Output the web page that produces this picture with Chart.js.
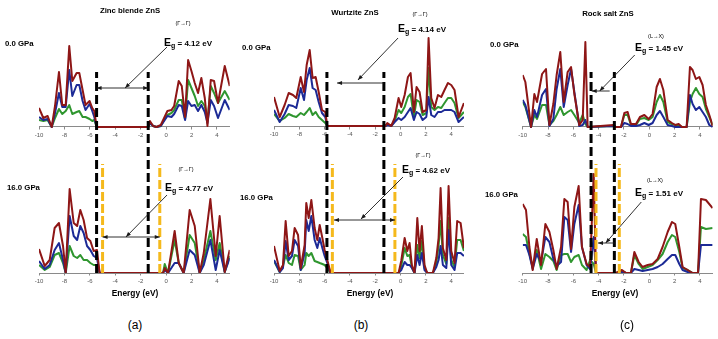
<!DOCTYPE html>
<html>
<head>
<meta charset="utf-8">
<script src="https://cdn.jsdelivr.net/npm/chart.js@4.4.0/dist/chart.umd.min.js"></script>
<style>
  html, body { margin: 0; padding: 0; background: #fff; }
  body { width: 718px; height: 339px; position: relative; overflow: hidden; font-family: "Liberation Sans", Arial, sans-serif; }
  canvas { position: absolute; top: 0; }
  .t { position: absolute; white-space: nowrap; font-weight: bold; color: #000; line-height: 1; }
  .c { transform: translate(-50%, -50%); }
  .l { transform: translate(0, -50%); }
  .title { font-size: 7.8px; }
  .gpa { font-size: 7.8px; }
  .tr { font-size: 5.5px; font-weight: normal; }
  .eg { font-size: 8px; }
  .eg big { font-size: 10.5px; }
  .eg sub { font-size: 7px; vertical-align: -2px; line-height: 0; }
  .axt { font-size: 8.4px; }
  .pan { font-size: 12px; font-weight: normal; }
</style>
</head>
<body>
<canvas id="colA" width="240" height="300" style="left:0px"></canvas>
<canvas id="colB" width="240" height="300" style="left:240px"></canvas>
<canvas id="colC" width="240" height="300" style="left:478px"></canvas>

<div class="t c title" style="left:130px;top:11px">Zinc blende ZnS</div>
<div class="t c title" style="left:355px;top:13px">Wurtzite ZnS</div>
<div class="t c title" style="left:608px;top:14px">Rock salt ZnS</div>

<div class="t l gpa" style="left:5px;top:44px">0.0 GPa</div>
<div class="t l gpa" style="left:242px;top:48px">0.0 GPa</div>
<div class="t l gpa" style="left:490px;top:45px">0.0 GPa</div>
<div class="t l gpa" style="left:7px;top:188px">16.0 GPa</div>
<div class="t l gpa" style="left:240px;top:198px">16.0 GPa</div>
<div class="t l gpa" style="left:485px;top:195px">16.0 GPa</div>

<div class="t c tr" style="left:183px;top:24px">(Γ→Γ)</div>
<div class="t c tr" style="left:186px;top:170px">(Γ→Γ)</div>
<div class="t c tr" style="left:420px;top:15px">(Γ→Γ)</div>
<div class="t c tr" style="left:423px;top:156px">(Γ→Γ)</div>
<div class="t c tr" style="left:656px;top:37px">(L→X)</div>
<div class="t c tr" style="left:655px;top:181px">(L→X)</div>

<div class="t l eg" style="left:164px;top:42px"><big>E</big><sub>g</sub> = 4.12 eV</div>
<div class="t l eg" style="left:165px;top:187px"><big>E</big><sub>g</sub> = 4.77 eV</div>
<div class="t l eg" style="left:398px;top:28px"><big>E</big><sub>g</sub> = 4.14 eV</div>
<div class="t l eg" style="left:402px;top:169px"><big>E</big><sub>g</sub> = 4.62 eV</div>
<div class="t l eg" style="left:635px;top:47px"><big>E</big><sub>g</sub> = 1.45 eV</div>
<div class="t l eg" style="left:635px;top:192px"><big>E</big><sub>g</sub> = 1.51 eV</div>

<div class="t c axt" style="left:135px;top:293px">Energy (eV)</div>
<div class="t c axt" style="left:370px;top:293px">Energy (eV)</div>
<div class="t c axt" style="left:615px;top:293px">Energy (eV)</div>

<div class="t c pan" style="left:135px;top:325px">(a)</div>
<div class="t c pan" style="left:361px;top:325px">(b)</div>
<div class="t c pan" style="left:627px;top:325px">(c)</div>

<script>
// x axis ticks (eV)
const tickValues = [-10, -8, -6, -4, -2, 0, 2, 4];

// ---- Zinc blende, 0 GPa ----
const zbEnergy0 = [-10, -9.66, -9.32, -9.0, -8.74, -8.43, -8.17, -7.9, -7.62, -7.38, -7.04, -6.83, -6.57, -6.34, -6.02, -5.81, -5.65, -5.47, -1.41, -1.28, -1.02, -0.76, -0.42, -0.16, 0.1, 0.42, 0.63, 0.99, 1.23, 1.49, 1.73, 1.99, 2.25, 2.51, 2.77, 3.04, 3.25, 3.51, 3.77, 4.08, 4.61, 5.0];
const zbTotal0 = [19, 9, 11, 0, 21, 55, 22, 22, 81, 46, 54, 54, 37, 22, 26, 19, 16, 0, 0, 6, 1, 0, 2, 9, 16, 17, 21, 46, 41, 10, 67, 56, 44, 34, 49, 29, 1, 47, 46, 24, 61, 41];
const zbZn0 = [10, 7, 8, 0, 14, 34, 20, 20, 57, 31, 42, 42, 26, 17, 23, 16, 10, 0, 0, 4, 1, 0, 1, 6, 11, 10, 13, 22, 21, 7, 26, 21, 22, 16, 22, 15, 4, 27, 21, 9, 27, 17];
const zbS0 = [7, 6, 7, 0, 9, 18, 13, 16, 22, 13, 15, 16, 10, 10, 8, 6, 7, 0, 0, 4, 1, 0, 1, 7, 12, 14, 17, 27, 27, 8, 47, 39, 31, 21, 26, 21, 6, 41, 34, 24, 36, 27];

// ---- Zinc blende, 16 GPa ----
const zbEnergy16 = [-10, -9.55, -9.16, -8.77, -8.43, -8.11, -7.9, -7.59, -7.27, -7.0, -6.75, -6.49, -6.22, -5.96, -5.7, -5.44, -5.23, -0.24, -0.11, 0.15, 0.67, 0.99, 1.38, 1.85, 2.25, 2.64, 2.96, 3.48, 3.9, 4.21, 4.61, 5.0];
const zbTotal16 = [24, 7, 13, 45, 50, 27, 0, 84, 50, 47, 63, 53, 35, 32, 22, 23, 0, 0, 5, 0, 42, 10, 0, 63, 47, 0, 20, 74, 17, 57, 1, 23];
const zbZn16 = [12, 4, 8, 23, 30, 13, 0, 57, 37, 33, 47, 40, 27, 23, 17, 15, 0, 0, 3, 0, 10, 10, 0, 23, 18, 0, 8, 33, 3, 23, 1, 15];
const zbS16 = [8, 3, 6, 18, 20, 10, 0, 27, 17, 15, 18, 13, 13, 10, 8, 8, 0, 0, 9, 0, 33, 10, 0, 38, 30, 0, 13, 42, 13, 30, 1, 17];

// ---- Wurtzite, 0 GPa ----
const wzEnergy0 = [-10, -9.55, -9.16, -8.84, -8.5, -8.24, -7.89, -7.63, -7.42, -7.18, -6.95, -6.71, -6.47, -6.21, -5.95, -5.79, -1.2, -1.05, -0.74, -0.47, -0.16, 0.05, 0.32, 0.58, 0.79, 1.05, 1.26, 1.5, 1.74, 2.03, 2.21, 2.42, 2.68, 2.95, 3.21, 3.47, 3.74, 4.0, 4.26, 4.58, 5.0];
const wzTotal0 = [29, 9, 21, 33, 31, 28, 49, 34, 61, 76, 48, 49, 34, 16, 14, 0, 0, 3, 0, 8, 28, 19, 31, 49, 53, 14, 39, 34, 14, 16, 88, 28, 18, 31, 29, 36, 43, 41, 36, 9, 23];
const wzZn0 = [16, 4, 12, 21, 20, 18, 38, 26, 46, 58, 38, 36, 24, 13, 9, 0, 0, 1, 0, 4, 8, 6, 9, 14, 18, 6, 14, 12, 6, 9, 29, 11, 9, 14, 14, 16, 16, 16, 14, 4, 9];
const wzS0 = [12, 5, 8, 12, 10, 9, 13, 11, 14, 18, 11, 14, 9, 6, 3, 0, 0, 2, 0, 5, 16, 13, 19, 29, 32, 9, 26, 24, 11, 13, 58, 19, 16, 19, 18, 23, 28, 28, 23, 8, 14];

// ---- Wurtzite, 16 GPa ----
const wzEnergy16 = [-10, -9.55, -9.29, -9.08, -8.84, -8.58, -8.37, -8.1, -7.89, -7.58, -7.45, -7.26, -7.05, -6.79, -6.58, -6.39, -6.18, -6.0, -5.79, -5.53, -0.16, 0.05, 0.32, 0.53, 0.71, 0.89, 1.1, 1.32, 1.5, 1.68, 1.89, 2.1, 2.55, 2.82, 3.0, 3.16, 3.34, 3.61, 3.79, 4.0, 4.26, 4.47, 4.74, 5.0];
const wzTotal16 = [27, 2, 8, 52, 17, 22, 45, 38, 5, 28, 70, 55, 73, 45, 33, 48, 35, 23, 13, 0, 0, 12, 35, 22, 30, 8, 0, 55, 22, 47, 8, 0, 0, 15, 35, 85, 25, 13, 87, 22, 10, 52, 50, 25];
const wzZn16 = [13, 1, 5, 32, 13, 17, 33, 27, 3, 20, 53, 42, 57, 33, 25, 35, 25, 17, 10, 0, 0, 3, 11, 8, 8, 5, 0, 18, 8, 20, 3, 0, 0, 6, 13, 27, 8, 5, 43, 8, 3, 20, 20, 17];
const wzS16 = [12, 1, 7, 18, 10, 8, 18, 17, 3, 8, 20, 17, 20, 12, 11, 10, 9, 8, 5, 0, 0, 7, 25, 17, 18, 6, 0, 28, 15, 32, 5, 0, 0, 10, 27, 52, 18, 9, 55, 13, 6, 33, 33, 22];

// ---- Rock salt, 0 GPa ----
const rsEnergy0 = [-10, -9.79, -9.34, -9.08, -8.87, -8.47, -8.16, -7.89, -7.58, -7.32, -7.03, -6.76, -6.45, -6.18, -5.92, -5.53, -5.26, -5.05, -4.87, -2.84, -2.63, -2.24, -1.97, -1.71, -1.45, -1.05, -0.74, -0.39, -0.05, 0.26, 0.58, 0.84, 1.11, 1.45, 1.79, 2.05, 2.32, 2.58, 2.95, 3.21, 3.42, 3.68, 3.95, 4.21, 4.47, 4.74, 5.0];
const rsTotal0 = [52, 45, 0, 33, 25, 53, 58, 2, 23, 52, 75, 25, 55, 60, 33, 2, 7, 85, 0, 2, 0, 0, 14, 15, 3, 3, 10, 12, 8, 13, 40, 48, 37, 7, 4, 2, 3, 0, 0, 60, 57, 48, 50, 42, 22, 12, 1];
const rsZn0 = [27, 22, 0, 17, 10, 32, 38, 1, 8, 38, 58, 20, 42, 58, 35, 1, 2, 7, 0, 1, 0, 0, 4, 3, 1, 1, 2, 4, 2, 4, 12, 16, 10, 2, 1, 0, 0, 0, 0, 32, 23, 17, 20, 15, 10, 2, 0];
const rsS0 = [25, 20, 0, 12, 8, 22, 22, 2, 6, 12, 20, 12, 15, 17, 12, 4, 12, 3, 0, 1, 0, 0, 12, 12, 2, 2, 8, 9, 7, 10, 25, 32, 25, 5, 3, 2, 2, 0, 0, 25, 33, 39, 33, 30, 18, 10, 2];

// ---- Rock salt, 16 GPa ----
const rsEnergy16 = [-10, -9.74, -9.47, -9.21, -8.89, -8.55, -8.21, -7.89, -7.58, -7.32, -6.97, -6.71, -6.45, -6.18, -5.92, -5.58, -5.32, -4.95, -4.68, -4.39, -4.21, -2.63, -2.16, -1.84, -1.45, -1.18, -0.84, -0.53, -0.13, 0.26, 0.66, 1.05, 1.45, 1.79, 2.05, 2.37, 2.63, 3.03, 3.42, 3.85, 4.08, 4.47, 5.0];
const rsTotal16 = [69, 63, 26, 3, 34, 8, 49, 41, 23, 4, 26, 74, 71, 24, 66, 87, 26, 9, 6, 99, 0, 0, 3, 0, 0, 21, 11, 6, 8, 9, 14, 26, 41, 51, 49, 26, 6, 3, 0, 0, 74, 73, 65];
const rsZn16 = [28, 28, 18, 4, 19, 11, 36, 31, 14, 7, 11, 56, 53, 21, 49, 68, 26, 8, 4, 36, 0, 0, 1, 0, 0, 4, 3, 2, 3, 4, 6, 9, 14, 18, 18, 9, 3, 1, 0, 0, 28, 28, 28];
const rsS16 = [39, 36, 19, 6, 23, 4, 19, 16, 12, 3, 18, 19, 19, 11, 16, 18, 8, 3, 13, 9, 0, 0, 2, 0, 0, 18, 9, 4, 6, 8, 13, 19, 31, 38, 36, 21, 5, 3, 0, 0, 46, 44, 45];

// band edges (eV): black = 0 GPa, yellow = 16 GPa
const zbEdges0 = [-5.47, -1.41], zbEdges16 = [-5.0, -0.5];
const wzEdges0 = [-5.82, -1.32], wzEdges16 = [-5.39, -0.45];
const rsEdges0 = [-4.6, -2.76], rsEdges16 = [-4.21, -2.37];

// layout of each column canvas
const AREA_TOP = 30, CANVAS_H = 300, X_AXIS_H = 27;
const AREA_H = CANVAS_H - X_AXIS_H - AREA_TOP;
const EDGE_TOP0 = 201, EDGE_TOP16 = 109;   // extent of the dashed lines (bottom-panel units)

const RED = '#8e1616', BLUE = '#1c2a96', GREEN = '#2f962f';
const FONT = '"Liberation Sans", Arial, sans-serif';

function pts(xs, ys) { return xs.map((x, i) => ({ x: x, y: ys[i] })); }

function line(data, color, yAxis, order) {
  return { data: data, borderColor: color, borderWidth: 2, pointRadius: 0, tension: 0,
    borderJoinStyle: 'round', fill: false, xAxisID: 'x', yAxisID: yAxis, order: order };
}

function edge(x, top, color, dash) {
  return { data: [{ x: x, y: 0 }, { x: x, y: top }], borderColor: color, borderWidth: 3,
    borderDash: dash, pointRadius: 0, fill: false, xAxisID: 'x', yAxisID: 'yB', order: 0, clip: false };
}

// arrows drawn from data coordinates
function arrowPlugin(list) {
  return {
    id: 'arrows',
    afterDatasetsDraw(chart) {
      const ctx = chart.ctx, xs = chart.scales.x;
      ctx.save();
      ctx.strokeStyle = '#1a1a1a';
      ctx.fillStyle = '#1a1a1a';
      ctx.lineWidth = 0.9;
      for (const a of list) {
        const ys = chart.scales[a.axis];
        const x1 = xs.getPixelForValue(a.from[0]), y1 = ys.getPixelForValue(a.from[1]);
        const x2 = xs.getPixelForValue(a.to[0]), y2 = ys.getPixelForValue(a.to[1]);
        ctx.beginPath();
        ctx.moveTo(x1, y1);
        ctx.lineTo(x2, y2);
        ctx.stroke();
        const heads = a.both ? [[x1, y1, x2, y2], [x2, y2, x1, y1]] : [[x1, y1, x2, y2]];
        for (const h of heads) {
          const ang = Math.atan2(h[3] - h[1], h[2] - h[0]);
          ctx.beginPath();
          ctx.moveTo(h[2], h[3]);
          ctx.lineTo(h[2] - 5 * Math.cos(ang) + 2 * Math.sin(ang), h[3] - 5 * Math.sin(ang) - 2 * Math.cos(ang));
          ctx.lineTo(h[2] - 5 * Math.cos(ang) - 2 * Math.sin(ang), h[3] - 5 * Math.sin(ang) + 2 * Math.cos(ang));
          ctx.closePath();
          ctx.fill();
        }
      }
      ctx.restore();
    }
  };
}

function xAxis(position) {
  return {
    type: 'linear', min: -10, max: 5, position: position,
    afterBuildTicks: s => { s.ticks = tickValues.map(v => ({ value: v })); },
    afterFit: s => { if (position === 'bottom') s.height = X_AXIS_H; },
    ticks: { font: { size: 6, family: FONT }, color: '#555', padding: 2, maxRotation: 0, autoSkip: false },
    grid: { drawOnChartArea: false, tickLength: 2.5, color: '#8a8a8a' },
    border: { color: '#8a8a8a', width: 1 }
  };
}

function makeColumn(id, c) {
  const yTmax = c.topAxis - AREA_TOP;
  const datasets = [
    edge(c.edges0[0], EDGE_TOP0, '#000', [9, 4]),
    edge(c.edges0[1], EDGE_TOP0, '#000', [9, 4]),
    edge(c.edges16[0], EDGE_TOP16, '#f5b91c', [9, 3]),
    edge(c.edges16[1], EDGE_TOP16, '#f5b91c', [9, 3]),
    line(pts(c.e0, c.tot0), RED, 'yT', 1),
    line(pts(c.e0, c.zn0), BLUE, 'yT', 2),
    line(pts(c.e0, c.s0), GREEN, 'yT', 3),
    line(pts(c.e16, c.tot16), RED, 'yB', 1),
    line(pts(c.e16, c.zn16), BLUE, 'yB', 2),
    line(pts(c.e16, c.s16), GREEN, 'yB', 3)
  ];
  new Chart(document.getElementById(id), {
    type: 'line',
    data: { datasets: datasets },
    options: {
      responsive: false,
      animation: false,
      layout: { padding: { left: c.padL, right: c.padR, top: AREA_TOP, bottom: 0 } },
      plugins: { legend: { display: false }, tooltip: { enabled: false } },
      scales: {
        x: xAxis('bottom'),
        xTop: xAxis({ yT: 0 }),
        yT: { display: false, min: yTmax - AREA_H, max: yTmax },
        yB: { display: false, min: 0, max: AREA_H }
      }
    },
    plugins: [arrowPlugin(c.arrows)]
  });
}

makeColumn('colA', {
  padL: 39, padR: 10.3, topAxis: 127,
  e0: zbEnergy0, tot0: zbTotal0, zn0: zbZn0, s0: zbS0,
  e16: zbEnergy16, tot16: zbTotal16, zn16: zbZn16, s16: zbS16,
  edges0: zbEdges0, edges16: zbEdges16,
  arrows: [
    { axis: 'yT', from: [-5.47, 39], to: [-1.41, 39], both: true },
    { axis: 'yT', from: [0.07, 80], to: [-3.23, 39] },
    { axis: 'yB', from: [-5.0, 36], to: [-0.5, 36], both: true },
    { axis: 'yB', from: [0.07, 78], to: [-3.16, 36] }
  ]
});

makeColumn('colB', {
  padL: 34, padR: 16.1, topAxis: 126,
  e0: wzEnergy0, tot0: wzTotal0, zn0: wzZn0, s0: wzS0,
  e16: wzEnergy16, tot16: wzTotal16, zn16: wzZn16, s16: wzS16,
  edges0: wzEdges0, edges16: wzEdges16,
  arrows: [
    { axis: 'yT', from: [-1.32, 43], to: [-5.02, 43] },
    { axis: 'yT', from: [-0.2, 88], to: [-3.37, 46] },
    { axis: 'yB', from: [-5.26, 53], to: [-0.44, 53], both: true },
    { axis: 'yB', from: [0.19, 96], to: [-3.13, 54] }
  ]
});

makeColumn('colC', {
  padL: 44.7, padR: 5.4, topAxis: 127,
  e0: rsEnergy0, tot0: rsTotal0, zn0: rsZn0, s0: rsS0,
  e16: rsEnergy16, tot16: rsTotal16, zn16: rsZn16, s16: rsS16,
  edges0: rsEdges0, edges16: rsEdges16,
  arrows: [
    { axis: 'yT', from: [-3.13, 36], to: [-4.55, 36] },
    { axis: 'yT', from: [-1.15, 72], to: [-3.92, 36] },
    { axis: 'yB', from: [-2.73, 30], to: [-4.05, 30] },
    { axis: 'yB', from: [-0.63, 71], to: [-3.44, 30] }
  ]
});
</script>
</body>
</html>
